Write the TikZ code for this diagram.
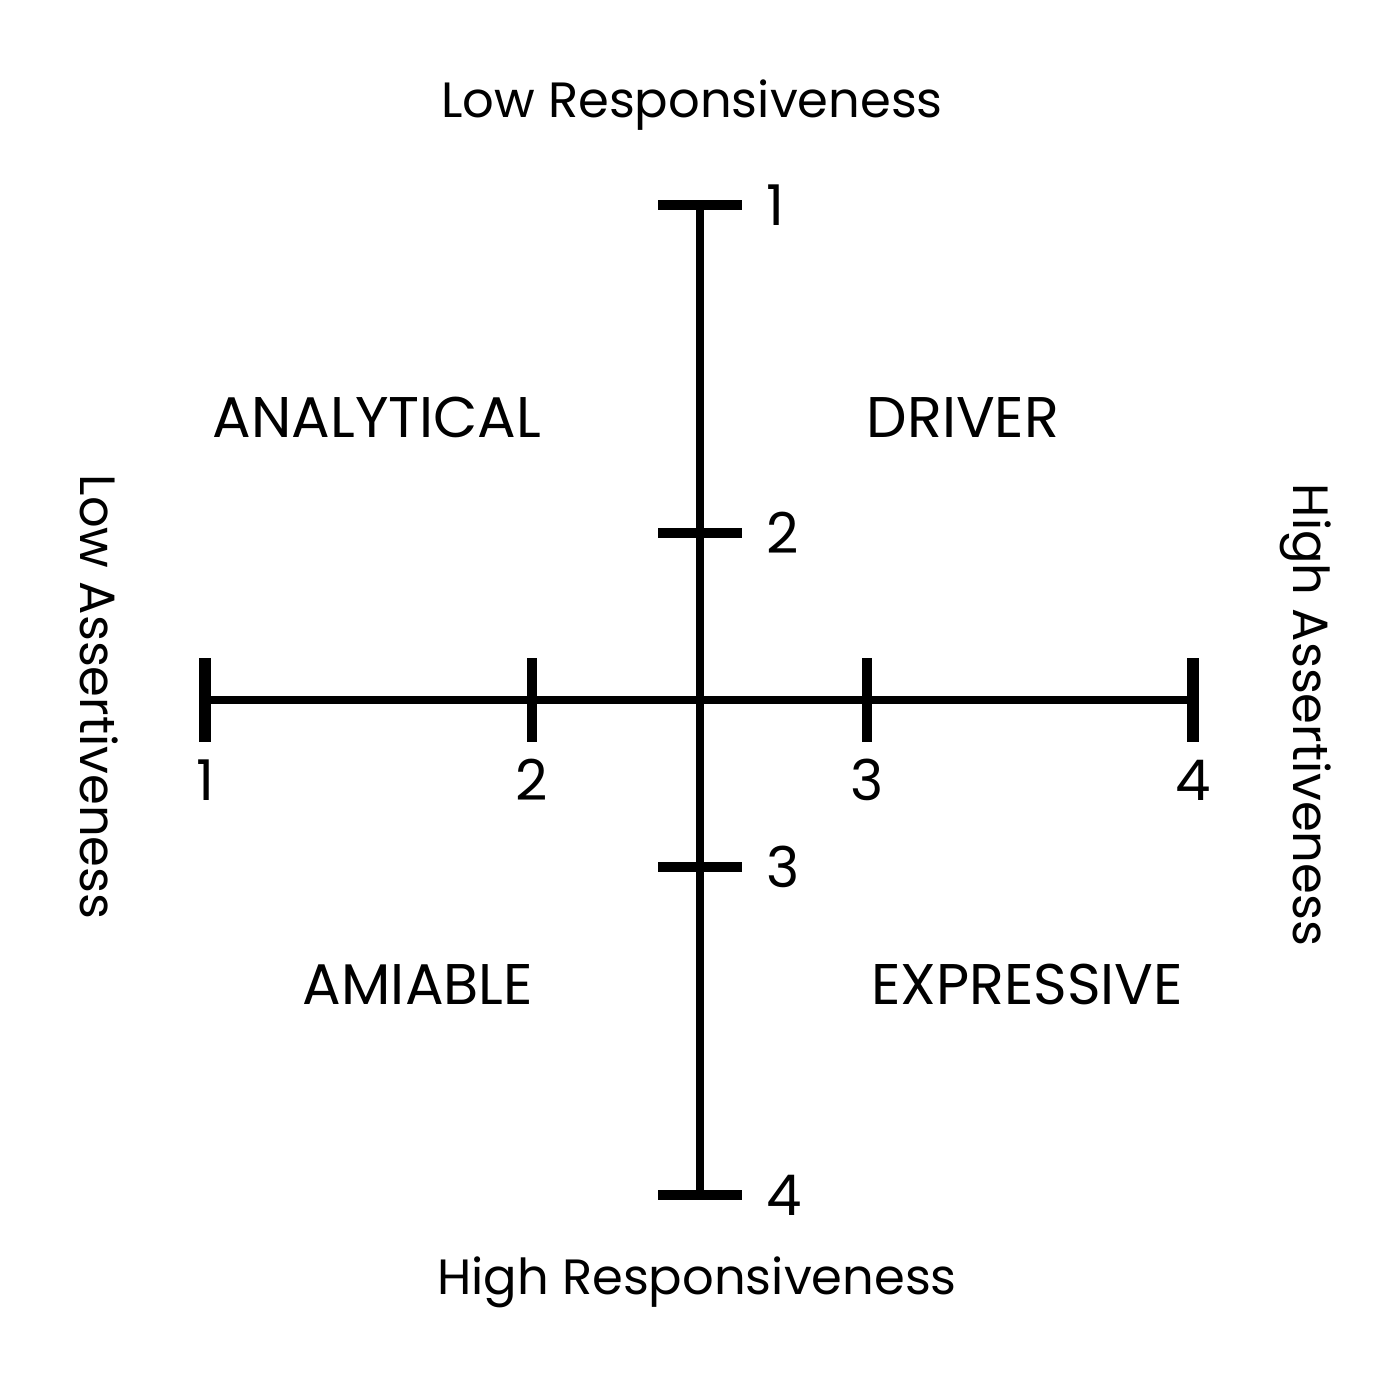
\documentclass[tikz,border=0pt]{standalone}
\usepackage{fontspec}
\setmainfont{Poppins}
\begin{document}
\begin{tikzpicture}[x=0.01cm,y=-0.01cm,
  axisline/.style={line width=0.08cm},
  tickmark/.style={line width=0.10cm},
  endmark/.style={line width=0.12cm},
  quadlabel/.style={font=\fontsize{16.3}{18}\selectfont},
  axlabel/.style={font=\fontsize{14.1}{16}\selectfont},
  numlabel/.style={font=\fontsize{16}{18}\selectfont}]
\useasboundingbox[fill=white] (0,0) rectangle (1400,1400);
% vertical axis
\coordinate (vt) at (700,205);
\coordinate (vb) at (700,1195);
\draw[axisline] (vt) -- (vb);
\foreach \y/\n in {205/1,533/2,867/3,1195/4}{
  \coordinate (vl\n) at (658,\y);
  \coordinate (vr\n) at (742,\y);
  \draw[tickmark] (vl\n) -- (vr\n);
  \node[numlabel,anchor=west] (vn\n) at (754,\y) {\n};
}
% horizontal axis
\coordinate (hl) at (205,700);
\coordinate (hr) at (1193,700);
\draw[axisline] (hl) -- (hr);
\foreach \x/\n/\s in {205/1/endmark,532/2/tickmark,867/3/tickmark,1193/4/endmark}{
  \coordinate (ht\n) at (\x,658);
  \coordinate (hb\n) at (\x,742);
  \draw[\s] (ht\n) -- (hb\n);
  \node[numlabel] (hn\n) at (\x,780) {\n};
}
\node[axlabel] (lowr) at (692,105) {Low Responsiveness};
\node[axlabel] (highr) at (697,1282) {High Responsiveness};
\node[axlabel,rotate=-90] (lowa) at (99,697) {Low Assertiveness};
\node[axlabel,rotate=-90] (higha) at (1306,715) {High Assertiveness};
\node[quadlabel] (analytical) at (377,417) {ANALYTICAL};
\node[quadlabel] (driver) at (963,417) {DRIVER};
\node[quadlabel] (amiable) at (418,984) {AMIABLE};
\node[quadlabel] (expressive) at (1027,984) {EXPRESSIVE};
\end{tikzpicture}
\end{document}
